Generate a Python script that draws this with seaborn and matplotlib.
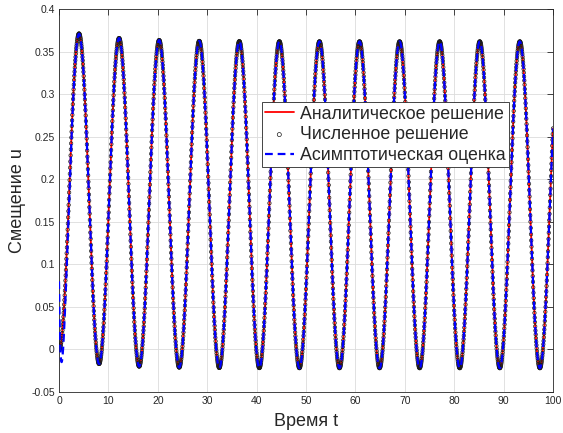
import numpy as np
import pandas as pd
import matplotlib
matplotlib.use("Agg")
import matplotlib.pyplot as plt
import seaborn as sns

# Model parameters of the oscillator response
t_end = 100.0
period = 8.112                 # oscillation period
peak_limit = 0.362             # settled maximum of u
trough_limit = -0.022          # settled minimum of u
peak_excess = 0.0158           # initial overshoot of the maxima
trough_excess = 0.0125         # initial lift of the minima
relax_time = 8.7               # decay time of the overshoot
start_time = 1.5               # time scale of the start-up term
asym_offset = 0.08             # asymptotic estimate at t = 0
asym_dip = 0.1485              # strength of its early dip
asym_time = 0.5                # decay time of the early deviation
num_step = 0.05                # step of the numerical scheme

x_ticks = list(range(0, 101, 10))
y_ticks = [-0.05, 0, 0.05, 0.1, 0.15, 0.2, 0.25, 0.3, 0.35, 0.4]
y_tick_labels = ["-0.05", "0", "0.05", "0.1", "0.15", "0.2", "0.25", "0.3", "0.35", "0.4"]
legend_labels = ["Аналитическое решение", "Численное решение", "Асимптотическая оценка"]


def analytic(t):
    w = 2 * np.pi / period
    rel = np.exp(-t / relax_time)
    hi = peak_limit + peak_excess * rel
    lo = trough_limit + trough_excess * rel
    mean = (hi + lo) / 2
    amp = (hi - lo) / 2
    amp0 = (peak_limit + peak_excess - trough_limit - trough_excess) / 2
    mean0 = (peak_limit + peak_excess + trough_limit + trough_excess) / 2
    amp = amp - (amp0 - mean0) * np.exp(-t / start_time)
    return mean - amp * np.cos(w * t)


def asymptotic(t):
    x = t / asym_time
    return analytic(t) + (asym_offset - asym_dip * x) * np.exp(-x)


t_fine = np.linspace(0, t_end, 5001)
t_num = np.arange(0, t_end + 1e-9, num_step)
df_an = pd.DataFrame({"t": t_fine, "u": analytic(t_fine)})
df_as = pd.DataFrame({"t": t_fine, "u": asymptotic(t_fine)})
df_num = pd.DataFrame({"t": t_num, "u": analytic(t_num)})

sns.set_theme(style="white")
plt.rcParams["font.family"] = ["Liberation Sans", "DejaVu Sans"]

fig = plt.figure(figsize=(5.63, 4.33), dpi=100)
ax = fig.add_axes([0.1048, 0.0947, 0.8774, 0.8843])

sns.lineplot(data=df_an, x="t", y="u", ax=ax, color="#ff0000", lw=1.3,
             estimator=None, sort=False, label=legend_labels[0], zorder=2)
sns.scatterplot(data=df_num, x="t", y="u", ax=ax, marker="o", s=6,
                facecolor="none", edgecolor="#1a1a1a", linewidth=0.5,
                label=legend_labels[1], zorder=3)
sns.lineplot(data=df_as, x="t", y="u", ax=ax, color="#0000ff", lw=1.6,
             estimator=None, sort=False, dashes=False, label=legend_labels[2], zorder=4)
ax.lines[-1].set_dashes((3.5, 2.2))

ax.set_xlim(0, 100)
ax.set_ylim(-0.05, 0.4)
ax.set_xticks(x_ticks)
ax.set_yticks(y_ticks)
ax.set_yticklabels(y_tick_labels)
ax.tick_params(direction="in", length=4, width=0.6, colors="#262626",
               labelsize=7.5, top=True, right=True, pad=3,
               labelcolor="#262626")
ax.grid(True, color="#dcdcdc", lw=0.6)
ax.set_axisbelow(True)
for sp in ax.spines.values():
    sp.set_color("#262626")
    sp.set_linewidth(0.6)

ax.set_xlabel("Время t", fontsize=13, color="#262626", labelpad=5)
ax.set_ylabel("Смещение u", fontsize=13, color="#262626", labelpad=4)

handles, labels = ax.get_legend_handles_labels()
leg = ax.legend(handles, labels, loc="upper left", bbox_to_anchor=(0.41, 0.757),
                fontsize=12.8, frameon=True, fancybox=False, framealpha=1,
                edgecolor="#262626", handlelength=1.6, handletextpad=0.35,
                borderpad=0.2, labelspacing=0.2, borderaxespad=0,
                markerscale=1.2)
leg.get_frame().set_linewidth(0.6)

fig.savefig("out.png", dpi=100)
